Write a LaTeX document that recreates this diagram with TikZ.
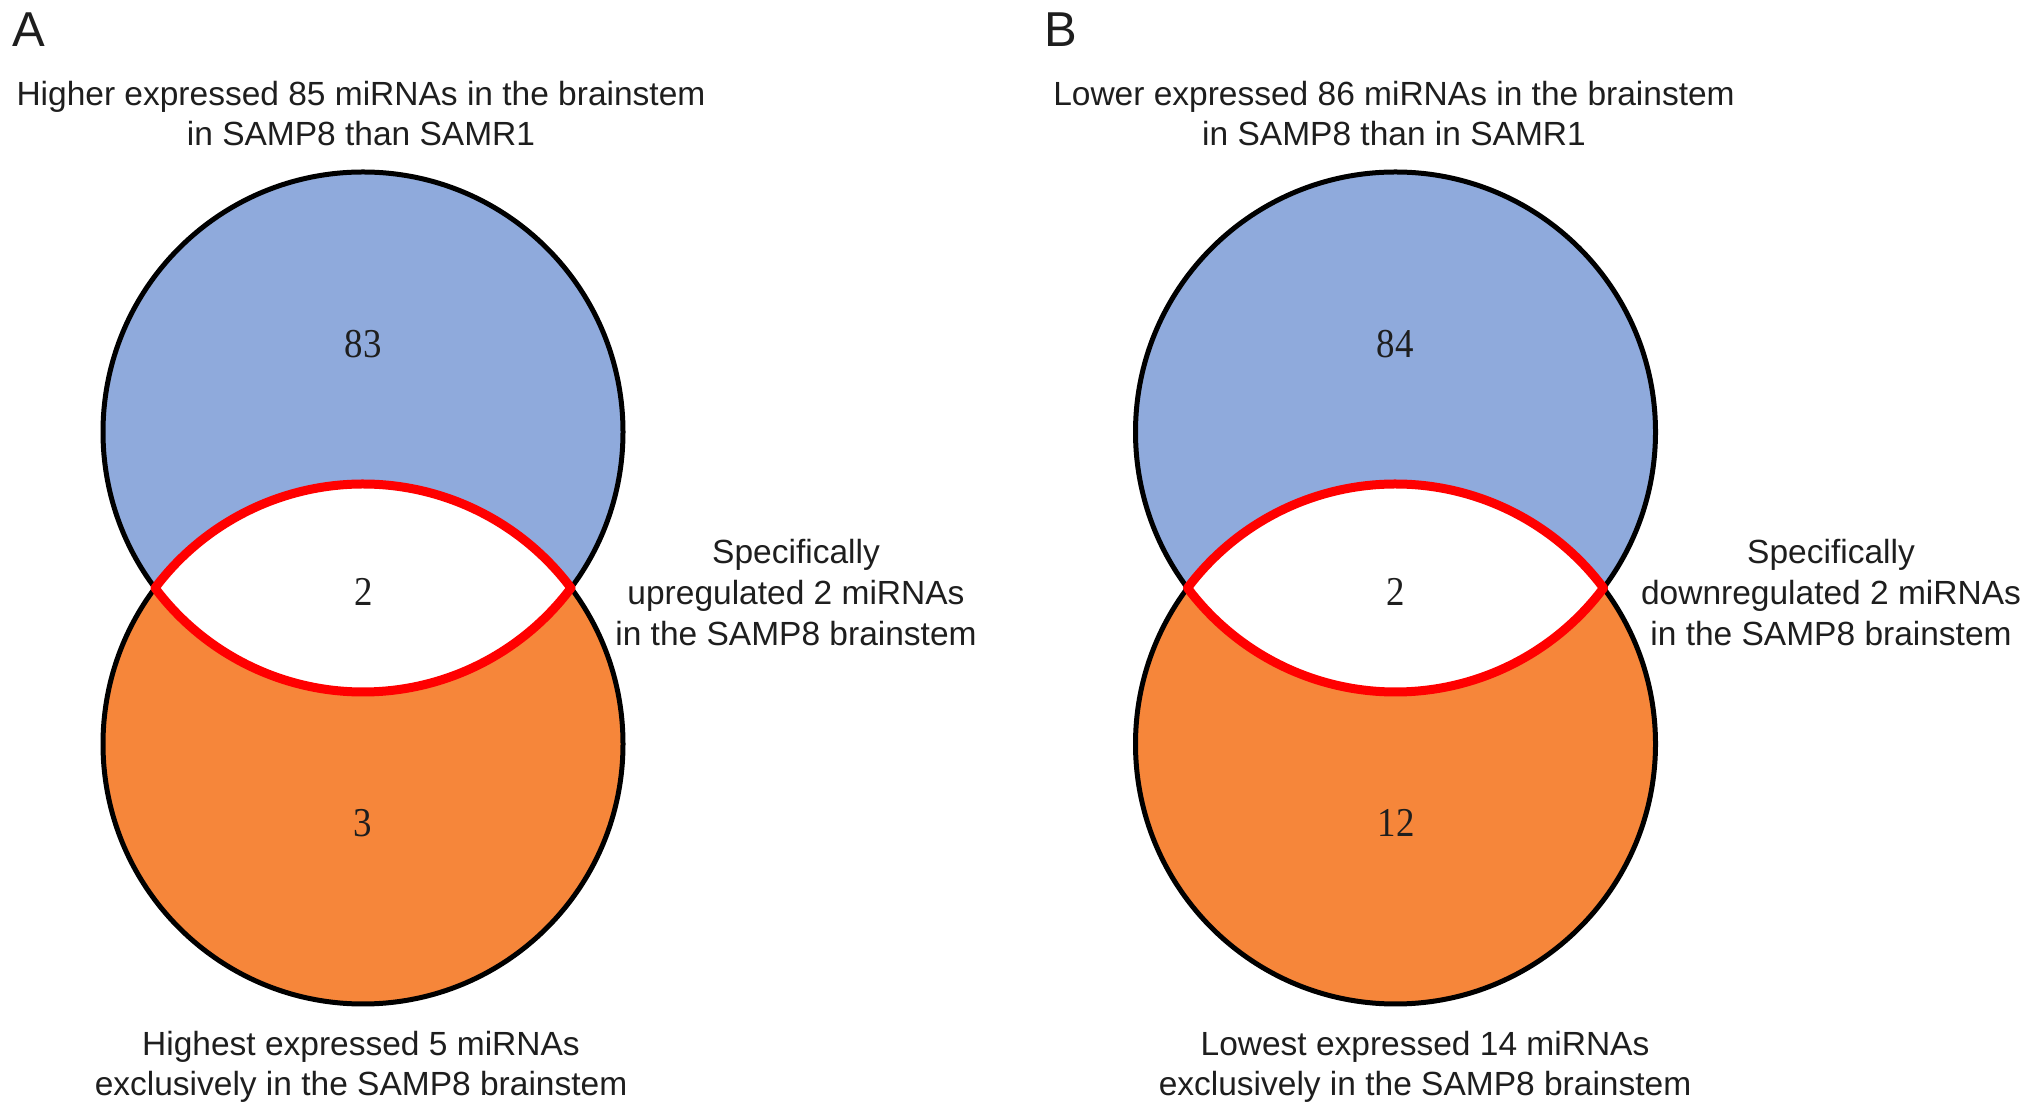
\documentclass[tikz,border=0pt]{standalone}
\usepackage{fontspec}
\setmainfont{Liberation Sans}
\newfontfamily\numfont{Liberation Serif}
\definecolor{vennblue}{HTML}{8FAADC}
\definecolor{vennorange}{HTML}{F6863A}
\definecolor{venntext}{HTML}{1E1E1E}
\tikzset{
  setcirc/.style={draw=black, line width=5pt},
  lensline/.style={draw=red, line width=9pt, fill=white, line join=round},
  txt/.style={anchor=base, inner sep=0pt, text=venntext, font=\fontsize{33.5}{40}\selectfont},
  panel/.style={anchor=base west, inner sep=0pt, text=venntext, font=\fontsize{49}{56}\selectfont},
  num/.style={anchor=base, inner sep=0pt, text=venntext, font=\numfont\fontsize{41}{46}\selectfont, xscale=0.9}
}
\begin{document}
\begin{tikzpicture}[x=1pt,y=1pt]
\useasboundingbox (0,0) rectangle (2032,1114);
\fill[white] (0,0) rectangle (2032,1114);
% ---------- Panel A ----------
\node[panel] (labA) at (12,1067) {A};
\coordinate (Atop) at (363,682);
\coordinate (Abot) at (363,370);
\coordinate (Aright) at (571,526);
\draw[setcirc, fill=vennblue] (Atop) circle[radius=260];
\draw[setcirc, fill=vennorange] (Abot) circle[radius=260];
\draw[lensline] (Aright) arc[start angle=36.87, end angle=143.13, radius=260]
  arc[start angle=216.87, end angle=323.13, radius=260] -- cycle;
\node[txt] (tA1) at (361,1008) {Higher expressed 85 miRNAs in the brainstem};
\node[txt] (tA2) at (361,968) {in SAMP8 than SAMR1};
\node[num] (nA1) at (363,756) {83};
\node[num] (nA2) at (364,508) {2};
\node[num] (nA3) at (363,277) {3};
\node[txt] (rA1) at (796,550) {Specifically};
\node[txt] (rA2) at (796,509) {upregulated 2 miRNAs};
\node[txt] (rA3) at (796,468) {in the SAMP8 brainstem};
\node[txt] (bA1) at (361,59) {Highest expressed 5 miRNAs};
\node[txt] (bA2) at (361,19) {exclusively in the SAMP8 brainstem};
% ---------- Panel B ----------
\node[panel] (labB) at (1044,1067) {B};
\coordinate (Btop) at (1395.5,682);
\coordinate (Bbot) at (1395.5,370);
\coordinate (Bright) at (1603.5,526);
\draw[setcirc, fill=vennblue] (Btop) circle[radius=260];
\draw[setcirc, fill=vennorange] (Bbot) circle[radius=260];
\draw[lensline] (Bright) arc[start angle=36.87, end angle=143.13, radius=260]
  arc[start angle=216.87, end angle=323.13, radius=260] -- cycle;
\node[txt] (tB1) at (1394,1008) {Lower expressed 86 miRNAs in the brainstem};
\node[txt] (tB2) at (1394,968) {in SAMP8 than in SAMR1};
\node[num] (nB1) at (1395,756) {84};
\node[num] (nB2) at (1396,508) {2};
\node[num] (nB3) at (1396,277) {12};
\node[txt] (rB1) at (1831,550) {Specifically};
\node[txt] (rB2) at (1831,509) {downregulated 2 miRNAs};
\node[txt] (rB3) at (1831,468) {in the SAMP8 brainstem};
\node[txt] (bB1) at (1425,59) {Lowest expressed 14 miRNAs};
\node[txt] (bB2) at (1425,19) {exclusively in the SAMP8 brainstem};
\end{tikzpicture}
\end{document}
